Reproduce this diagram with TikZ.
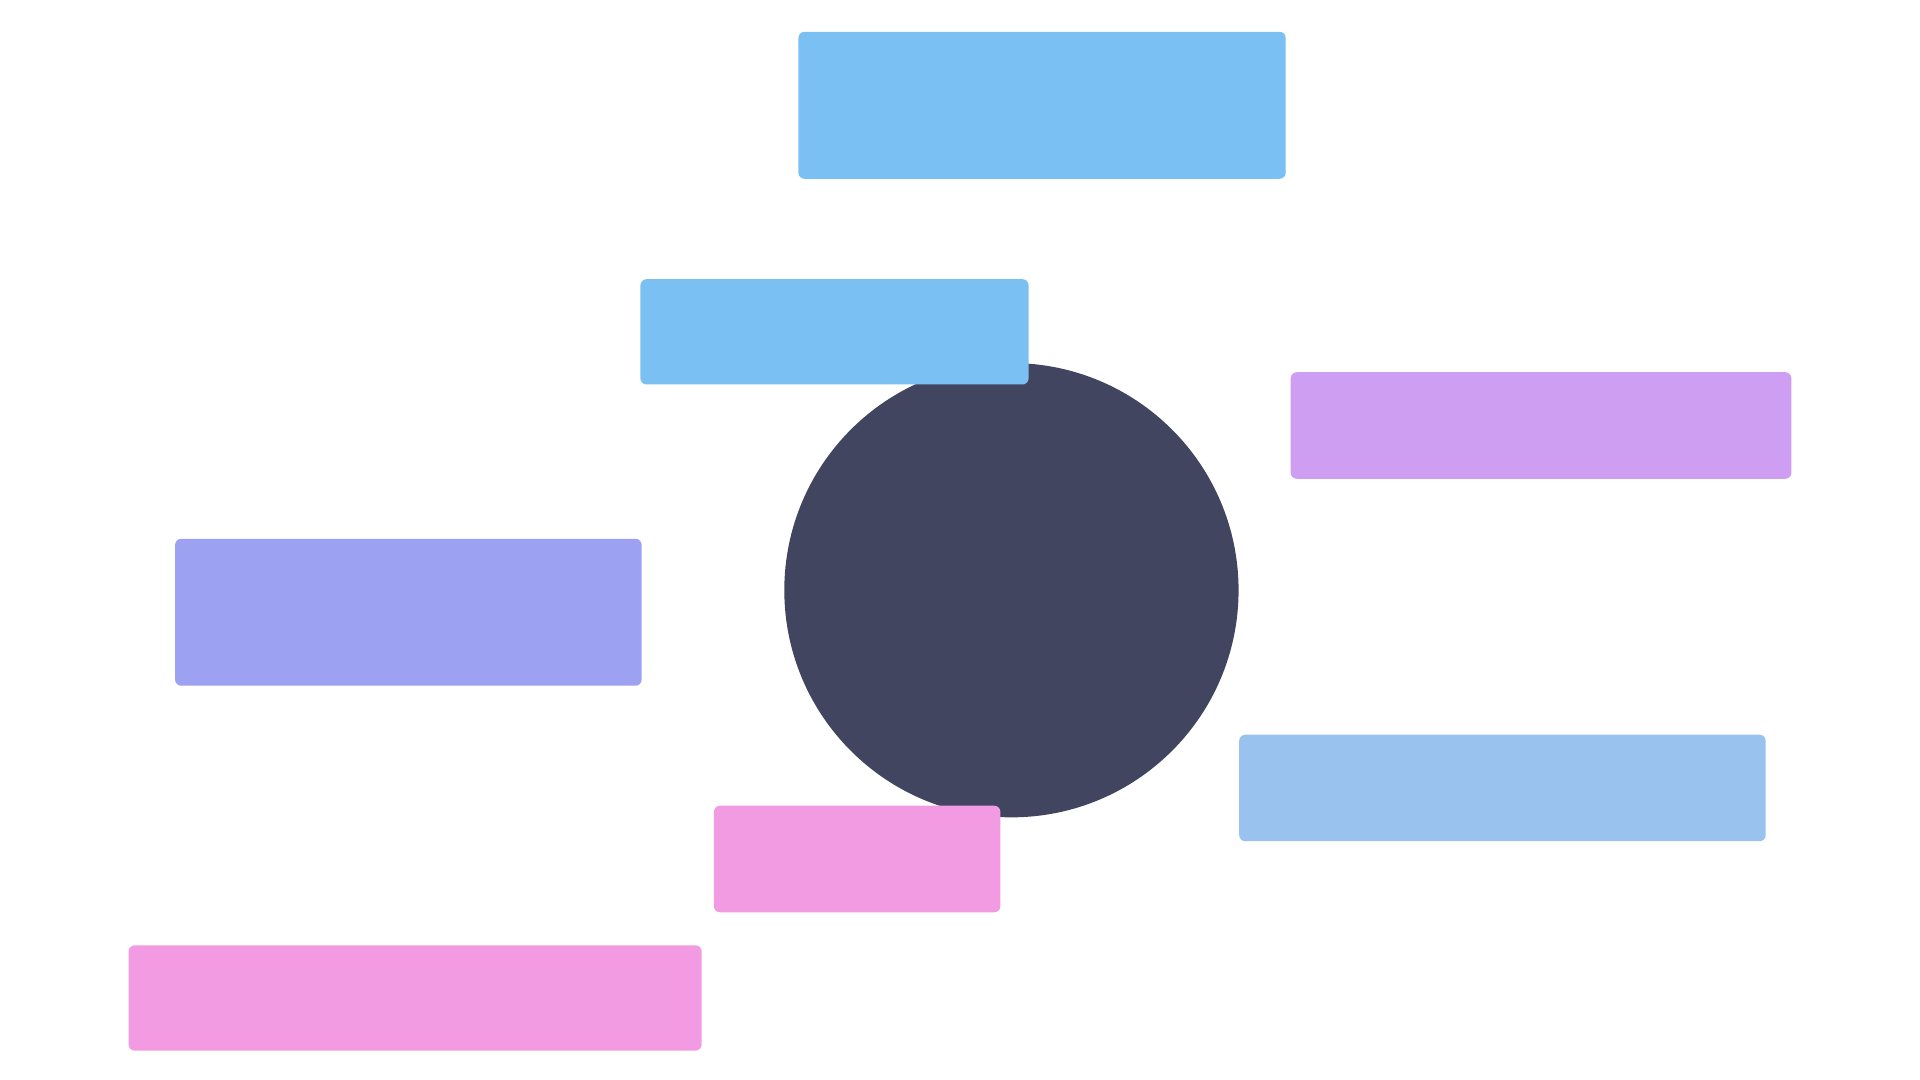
\documentclass[tikz,border=0pt]{standalone}
\usepackage{fontspec}
\setmainfont{Fira Sans}
\begin{document}
\begin{tikzpicture}[x=1pt,y=-1pt,
  box/.style={rounded corners=5pt,inner sep=0pt,align=center,font=\fontsize{28}{34}\selectfont},
  edge/.style={line width=5pt}]
\useasboundingbox (0,0) rectangle (1568,882);
\definecolor{cblue}{HTML}{7BC0F2}\definecolor{tblue}{HTML}{0F6CBD}
\definecolor{corange}{HTML}{E57C2E}\definecolor{cpurp}{HTML}{CE9EF2}\definecolor{tpurp}{HTML}{8A2BD6}
\definecolor{cgreen}{HTML}{6BD62A}\definecolor{cind}{HTML}{9DA1F2}\definecolor{tind}{HTML}{3030C8}
\definecolor{cyel}{HTML}{D4C41A}\definecolor{cpt}{HTML}{9AC2EE}\definecolor{tpt}{HTML}{1C5FBF}
\definecolor{cbrown}{HTML}{D8761C}\definecolor{cpink}{HTML}{F29AE2}\definecolor{tpink}{HTML}{C71FA8}
\definecolor{cg2}{HTML}{22D83A}\definecolor{ccirc}{HTML}{414560}
% edges
\coordinate (c) at (826,482);
\node[circle,fill=ccirc,minimum size=371pt,inner sep=0pt] (center) at (c) {};
\path (center.center) ++(0,0);
\node[box,fill=cblue,text=tblue,minimum width=398pt,minimum height=120pt] (dsd) at (851,86) {};
\node[box,fill=cblue,text=tblue,minimum width=317pt,minimum height=86pt] (st) at (681.5,271) {};
\node[box,fill=cpurp,minimum width=409pt,minimum height=87pt] (ebp) at (1258.5,347.5) {};
\node[box,fill=cind,minimum width=381pt,minimum height=120pt] (cpd) at (333.5,500) {};
\node[box,fill=cpt,minimum width=430pt,minimum height=87pt] (ptm) at (1227,643.5) {};
\node[box,fill=cpink,minimum width=234pt,minimum height=87pt] (col) at (700,701.5) {};
\node[box,fill=cpink,minimum width=468pt,minimum height=86pt] (sge) at (339,815) {};
\begin{scope}[on background layer/.try]\end{scope}
\end{tikzpicture}
\end{document}
